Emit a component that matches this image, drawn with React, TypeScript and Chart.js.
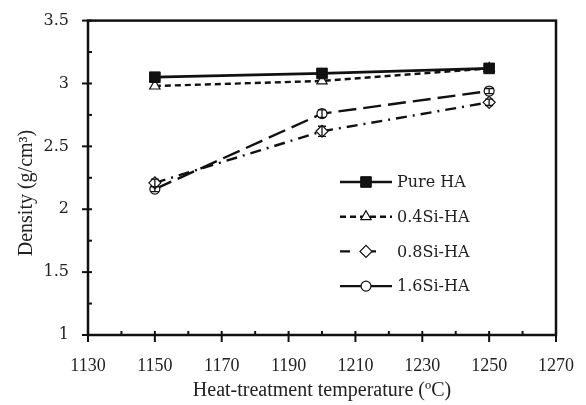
import React, { useEffect, useRef } from 'react';
import { Chart, registerables } from 'chart.js';
import { drawPoint } from 'chart.js/helpers';

Chart.register(...registerables);

const temperatures = [1150, 1200, 1250];
const pureHA = [3.05, 3.08, 3.12];
const si04HA = [2.98, 3.02, 3.12];
const si08HA = [2.21, 2.62, 2.85];
const si16HA = [2.16, 2.76, 2.94];
const si08Err = [0.03, 0.04, 0.025];
const si16Err = [0.02, 0.03, 0.02];
const seriesNames = ['Pure HA', '0.4Si-HA', '0.8Si-HA', '1.6Si-HA'];
const xTitle = 'Heat-treatment temperature (ºC)';
const yTitle = 'Density (g/cm³)';
const xMin = 1130;
const xMax = 1270;
const xStep = 20;
const yMin = 1;
const yMax = 3.5;
const yStep = 0.5;

const INK = '#111';
const TEXT = '#222';
const CENTURY = '"DejaVu Serif", serif';
const TIMES = '"Liberation Serif", serif';

const toPoints = (vals: number[]) => temperatures.map((t, i) => ({ x: t, y: vals[i] }));

const framePlugin = {
  id: 'frame',
  afterDraw(chart: any) {
    const { ctx, chartArea: a, scales } = chart;
    const xs = scales.x;
    const ys = scales.y;
    ctx.save();
    ctx.strokeStyle = INK;
    ctx.lineWidth = 2.5;
    ctx.setLineDash([]);
    ctx.strokeRect(a.left, a.top, a.right - a.left, a.bottom - a.top);
    ctx.lineWidth = 2;
    for (let v = xMin; v <= xMax + 1e-9; v += xStep / 2) {
      const px = xs.getPixelForValue(v);
      const major = Math.abs((v - xMin) % xStep) < 1e-6;
      ctx.beginPath();
      ctx.moveTo(px, a.bottom - 4);
      ctx.lineTo(px, a.bottom + (major ? 7 : 0));
      ctx.stroke();
    }
    for (let v = yMin; v <= yMax + 1e-9; v += yStep / 2) {
      const py = ys.getPixelForValue(v);
      const k = Math.round((v - yMin) / (yStep / 2));
      const major = k % 2 === 0;
      ctx.beginPath();
      ctx.moveTo(a.left + 4, py);
      ctx.lineTo(a.left - (major ? 6 : 0), py);
      ctx.stroke();
    }
    // y title
    ctx.fillStyle = TEXT;
    ctx.font = '20px ' + TIMES;
    ctx.textAlign = 'center';
    ctx.textBaseline = 'middle';
    ctx.translate(27, 193);
    ctx.rotate(-Math.PI / 2);
    ctx.fillText(yTitle, 0, 0);
    ctx.restore();
  },
};

const errorPlugin = {
  id: 'errbars',
  afterDatasetsDraw(chart: any) {
    const { ctx, scales } = chart;
    const sets: [number[], number[]][] = [
      [si08HA, si08Err],
      [si16HA, si16Err],
    ];
    ctx.save();
    ctx.strokeStyle = INK;
    ctx.lineWidth = 1.3;
    ctx.setLineDash([]);
    sets.forEach(([vals, errs]) => {
      vals.forEach((v, i) => {
        const px = scales.x.getPixelForValue(temperatures[i]);
        const y1 = scales.y.getPixelForValue(v + errs[i]);
        const y2 = scales.y.getPixelForValue(v - errs[i]);
        ctx.beginPath();
        ctx.moveTo(px, y1);
        ctx.lineTo(px, y2);
        ctx.moveTo(px - 4, y1);
        ctx.lineTo(px + 4, y1);
        ctx.moveTo(px - 4, y2);
        ctx.lineTo(px + 4, y2);
        ctx.stroke();
      });
    });
    ctx.restore();
  },
};

const legendPlugin = {
  id: 'customLegend',
  afterDraw(chart: any) {
    const { ctx } = chart;
    const x0 = 340;
    const x1 = 392;
    const y0 = 182;
    const gap = 34.7;
    ctx.save();
    chart.data.datasets.forEach((ds: any, i: number) => {
      const y = y0 + i * gap;
      ctx.strokeStyle = INK;
      ctx.lineWidth = ds.borderWidth;
      ctx.setLineDash(ds.legendDash || ds.borderDash || []);
      ctx.beginPath();
      ctx.moveTo(x0, y);
      ctx.lineTo(x1, y);
      ctx.stroke();
      ctx.setLineDash([]);
      ctx.fillStyle = ds.pointBackgroundColor;
      ctx.strokeStyle = INK;
      ctx.lineWidth = ds.pointBorderWidth;
      drawPoint(ctx, { pointStyle: ds.pointStyle, radius: ds.pointRadius, rotation: 0, borderWidth: ds.pointBorderWidth }, (x0 + x1) / 2, y);
      ctx.fillStyle = TEXT;
      ctx.font = '16px ' + CENTURY;
      ctx.textBaseline = 'middle';
      ctx.textAlign = 'left';
      ctx.fillText(seriesNames[i], x1 + 5, y + 1);
    });
    ctx.restore();
  },
};

export default function App() {
  const ref = useRef<HTMLCanvasElement>(null);
  useEffect(() => {
    document.body.style.margin = '0';
    const canvas = ref.current!;
    const chart = new Chart(canvas, {
      type: 'line',
      data: {
        datasets: [
          {
            label: seriesNames[0],
            data: toPoints(pureHA),
            borderColor: INK,
            borderWidth: 2.7,
            pointStyle: 'rect',
            pointRadius: 7.5,
            pointBackgroundColor: INK,
            pointBorderColor: INK,
            pointBorderWidth: 1,
          } as any,
          {
            label: seriesNames[1],
            data: toPoints(si04HA),
            borderColor: INK,
            borderWidth: 2.4,
            borderDash: [6, 4],
            pointStyle: 'triangle',
            pointRadius: 6,
            pointBackgroundColor: '#fff',
            pointBorderColor: INK,
            pointBorderWidth: 1.2,
          } as any,
          {
            label: seriesNames[2],
            data: toPoints(si08HA),
            borderColor: INK,
            borderWidth: 2.4,
            borderDash: [11, 6, 2, 6],
            legendDash: [10, 16],
            pointStyle: 'rectRot',
            pointRadius: 6,
            pointBackgroundColor: '#fff',
            pointBorderColor: INK,
            pointBorderWidth: 1.2,
          } as any,
          {
            label: seriesNames[3],
            data: toPoints(si16HA),
            borderColor: INK,
            borderWidth: 2.4,
            borderDash: [18, 7],
            legendDash: [],
            pointStyle: 'circle',
            pointRadius: 5,
            pointBackgroundColor: '#fff',
            pointBorderColor: INK,
            pointBorderWidth: 1.2,
          } as any,
        ],
      },
      options: {
        animation: false,
        responsive: false,
        layout: { padding: { left: 8, top: 15, right: 29, bottom: 0 } },
        plugins: { legend: { display: false }, tooltip: { enabled: false } },
        scales: {
          x: {
            type: 'linear',
            min: xMin,
            max: xMax,
            ticks: { stepSize: xStep, color: TEXT, font: { family: TIMES, size: 18 }, padding: 12, maxRotation: 0, callback: (v: any) => String(v) },
            grid: { display: false },
            border: { display: false },
            title: { display: true, text: xTitle, color: TEXT, font: { family: TIMES, size: 20 }, padding: { top: 0, bottom: 2 } },
            afterFit: (s: any) => { s.height = 70; },
          },
          y: {
            type: 'linear',
            min: yMin,
            max: yMax,
            ticks: { stepSize: yStep, color: TEXT, font: { family: CENTURY, size: 16 }, padding: 11, callback: (v: any) => String(v) },
            grid: { display: false },
            border: { display: false },
            title: { display: false },
            afterFit: (s: any) => { s.width = 80; },
          },
        },
      },
      plugins: [framePlugin, errorPlugin, legendPlugin],
    });
    return () => chart.destroy();
  }, []);
  return <canvas ref={ref} width={586} height={405} style={{ display: 'block' }} />;
}
